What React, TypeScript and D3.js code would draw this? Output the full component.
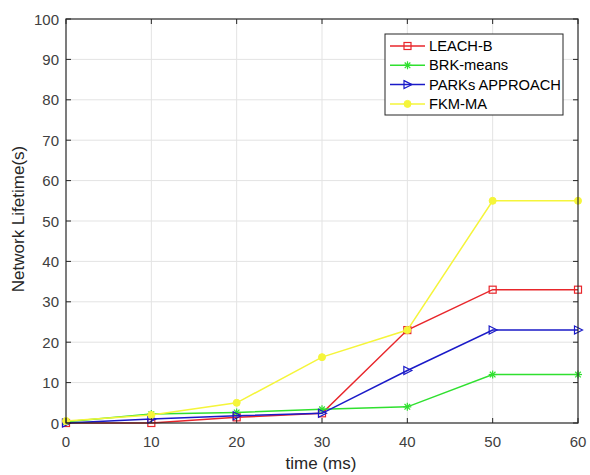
import React from "react";
import * as d3 from "d3";

const xValues = [0, 10, 20, 30, 40, 50, 60];
const leachB = [0, 0, 1.4, 2.4, 23, 33, 33];
const brkMeans = [0.3, 2.2, 2.6, 3.4, 4, 12, 12];
const parks = [0, 1, 1.8, 2.4, 13, 23, 23];
const fkmMa = [0.5, 2, 5, 16.3, 23, 55, 55];
const xTicks = [0, 10, 20, 30, 40, 50, 60];
const yTicks = [0, 10, 20, 30, 40, 50, 60, 70, 80, 90, 100];
const seriesNames = ["LEACH-B", "BRK-means", "PARKs APPROACH", "FKM-MA"];
const seriesColors = ["#e8262b", "#2fe02f", "#1a1ac8", "#f5f53a"];
const seriesMarkers = ["square", "star", "triangle", "circle"];
const seriesData = [leachB, brkMeans, parks, fkmMa];

const W = 590, H = 475;
const L = 66, R = 578, T = 19, B = 423;
const font = "'Liberation Sans', Arial, sans-serif";

function Marker({ type, x, y, color }: { type: string; x: number; y: number; color: string }) {
  const s = 3.5;
  if (type === "square")
    return <rect x={x - s} y={y - s} width={2 * s} height={2 * s} fill="none" stroke={color} strokeWidth={1.2} />;
  if (type === "triangle")
    return <path d={`M${x - s},${y - s - 0.5}L${x + s + 1},${y}L${x - s},${y + s + 0.5}Z`} fill="none" stroke={color} strokeWidth={1.2} />;
  if (type === "circle")
    return <circle cx={x} cy={y} r={s} fill={color} stroke={color} strokeWidth={1} />;
  const r = 4;
  return (
    <g stroke={color} strokeWidth={1.2}>
      <line x1={x - r} y1={y} x2={x + r} y2={y} />
      <line x1={x} y1={y - r} x2={x} y2={y + r} />
      <line x1={x - r * 0.7} y1={y - r * 0.7} x2={x + r * 0.7} y2={y + r * 0.7} />
      <line x1={x - r * 0.7} y1={y + r * 0.7} x2={x + r * 0.7} y2={y - r * 0.7} />
    </g>
  );
}

export default function App() {
  const x = d3.scaleLinear().domain([0, 60]).range([L, R]);
  const y = d3.scaleLinear().domain([0, 100]).range([B, T]);
  const line = d3
    .line<number>()
    .x((_, i) => x(xValues[i]))
    .y((d) => y(d));
  const axisColor = "#262626";
  const tickColor = "#404040";
  const legX = 385, legY = 34, legW = 178, legH = 81;
  return (
    <svg width={W} height={H} style={{ position: "absolute", left: 0, top: 0, background: "#fff" }}>
      <rect x={0} y={0} width={W} height={H} fill="#fff" />
      {xTicks.slice(1, -1).map((t) => (
        <line key={"gx" + t} x1={x(t)} x2={x(t)} y1={T} y2={B} stroke="#e3e3e3" strokeWidth={1} />
      ))}
      {yTicks.slice(1, -1).map((t) => (
        <line key={"gy" + t} x1={L} x2={R} y1={y(t)} y2={y(t)} stroke="#e3e3e3" strokeWidth={1} />
      ))}
      {seriesData.map((d, si) => (
        <g key={"s" + si}>
          <path d={line(d) || ""} fill="none" stroke={seriesColors[si]} strokeWidth={1.5} />
          {d.map((v, i) => (
            <Marker key={i} type={seriesMarkers[si]} x={x(xValues[i])} y={y(v)} color={seriesColors[si]} />
          ))}
        </g>
      ))}
      <rect x={L} y={T} width={R - L} height={B - T} fill="none" stroke={axisColor} strokeWidth={1.2} />
      {xTicks.map((t) => (
        <g key={"tx" + t}>
          <line x1={x(t)} x2={x(t)} y1={B} y2={B - 5} stroke={axisColor} />
          <line x1={x(t)} x2={x(t)} y1={T} y2={T + 5} stroke={axisColor} />
          <text x={x(t)} y={441} textAnchor="middle" dominantBaseline="central" fontFamily={font} fontSize={15} fill={tickColor}>
            {t}
          </text>
        </g>
      ))}
      {yTicks.map((t) => (
        <g key={"ty" + t}>
          <line x1={L} x2={L + 5} y1={y(t)} y2={y(t)} stroke={axisColor} />
          <line x1={R} x2={R - 5} y1={y(t)} y2={y(t)} stroke={axisColor} />
          <text x={59} y={y(t)} textAnchor="end" dominantBaseline="central" fontFamily={font} fontSize={15} fill={tickColor}>
            {t}
          </text>
        </g>
      ))}
      <text x={321} y={463} textAnchor="middle" dominantBaseline="central" fontFamily={font} fontSize={17} fill="#262626">
        time (ms)
      </text>
      <text
        transform={`translate(18,219) rotate(-90)`}
        textAnchor="middle"
        dominantBaseline="central"
        fontFamily={font}
        fontSize={17}
        fill="#262626"
      >
        Network Lifetime(s)
      </text>
      <rect x={legX} y={legY} width={legW} height={legH} fill="#fff" stroke={axisColor} strokeWidth={1} />
      {seriesNames.map((n, i) => {
        const ly = 46 + i * 19.3;
        return (
          <g key={"l" + i}>
            <line x1={390} x2={425} y1={ly} y2={ly} stroke={seriesColors[i]} strokeWidth={1.5} />
            <Marker type={seriesMarkers[i]} x={407.5} y={ly} color={seriesColors[i]} />
            <text x={429} y={ly} dominantBaseline="central" fontFamily={font} fontSize={14.7} fill="#000">
              {n}
            </text>
          </g>
        );
      })}
    </svg>
  );
}
